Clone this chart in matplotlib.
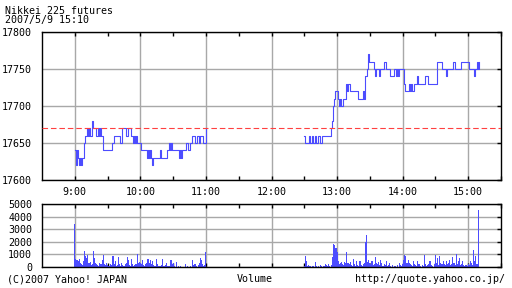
import matplotlib
matplotlib.use("Agg")
import matplotlib.pyplot as plt
from matplotlib.ticker import FixedLocator, NullFormatter

# price steps (time, price) -- morning and afternoon sessions
am_times = ["9:00", "9:01", "9:02", "9:03", "9:04", "9:05", "9:06", "9:07", "9:08", "9:09",
            "9:11", "9:12", "9:13", "9:14", "9:16", "9:17", "9:19", "9:21", "9:22", "9:23",
            "9:24", "9:26", "9:34", "9:36", "9:41", "9:43", "9:47", "9:49", "9:51", "9:53",
            "9:54", "9:55", "9:56", "9:57", "10:01", "10:06", "10:07", "10:08", "10:09", "10:10",
            "10:11", "10:12", "10:18", "10:19", "10:24", "10:26", "10:27", "10:28", "10:29", "10:35",
            "10:36", "10:37", "10:38", "10:42", "10:44", "10:45", "10:47", "10:50", "10:52", "10:54",
            "10:55", "10:57", "11:00"]
am_prices = [17640, 17620, 17640, 17630, 17620, 17630, 17620, 17630, 17650, 17660,
             17670, 17660, 17670, 17660, 17680, 17670, 17660, 17670, 17660, 17670,
             17660, 17640, 17650, 17660, 17650, 17670, 17660, 17670, 17660, 17650,
             17660, 17650, 17660, 17650, 17640, 17630, 17640, 17630, 17640, 17630,
             17620, 17630, 17640, 17630, 17640, 17650, 17640, 17650, 17640, 17630,
             17640, 17630, 17640, 17650, 17640, 17650, 17660, 17650, 17660, 17650,
             17660, 17650, 17670]

pm_times = ["12:30", "12:31", "12:34", "12:35", "12:37", "12:38", "12:40", "12:41", "12:43", "12:44",
            "12:46", "12:54", "12:55", "12:56", "12:57", "12:58", "13:01", "13:02", "13:03", "13:04",
            "13:05", "13:08", "13:09", "13:10", "13:12", "13:19", "13:24", "13:25", "13:26", "13:27",
            "13:28", "13:29", "13:34", "13:35", "13:36", "13:38", "13:39", "13:43", "13:45", "13:48",
            "13:52", "13:54", "13:55", "13:56", "13:57", "14:01", "14:02", "14:06", "14:07", "14:08",
            "14:09", "14:10", "14:13", "14:14", "14:20", "14:23", "14:31", "14:36", "14:40", "14:41",
            "14:46", "14:48", "14:53", "15:01", "15:05", "15:06", "15:08", "15:09", "15:10"]
pm_prices = [17660, 17650, 17660, 17650, 17660, 17650, 17660, 17650, 17660, 17650,
             17660, 17670, 17680, 17700, 17710, 17720, 17710, 17700, 17710, 17700,
             17710, 17730, 17720, 17730, 17720, 17710, 17720, 17710, 17740, 17750,
             17770, 17760, 17750, 17740, 17750, 17740, 17750, 17760, 17750, 17740,
             17750, 17740, 17750, 17740, 17750, 17730, 17720, 17730, 17720, 17730,
             17720, 17730, 17740, 17730, 17740, 17730, 17760, 17750, 17740, 17750,
             17760, 17750, 17760, 17750, 17740, 17750, 17760, 17750, 17760]

prev_close = 17670

# volume per minute
vol_times = ["9:00", "9:01", "9:02", "9:03", "9:04", "9:05", "9:06", "9:07", "9:08", "9:09",
             "9:10", "9:11", "9:12", "9:13", "9:14", "9:15", "9:16", "9:17", "9:18", "9:19",
             "9:20", "9:21", "9:22", "9:23", "9:24", "9:25", "9:26", "9:27", "9:28", "9:29",
             "9:30", "9:31", "9:32", "9:33", "9:34", "9:35", "9:36", "9:37", "9:38", "9:39",
             "9:40", "9:41", "9:42", "9:43", "9:44", "9:45", "9:46", "9:47", "9:48", "9:49",
             "9:50", "9:51", "9:52", "9:53", "9:54", "9:55", "9:56", "9:57", "9:58", "9:59",
             "10:00", "10:01", "10:02", "10:03", "10:04", "10:05", "10:06", "10:07", "10:08", "10:09",
             "10:10", "10:11", "10:12", "10:13", "10:14", "10:15", "10:16", "10:17", "10:18", "10:19",
             "10:20", "10:21", "10:22", "10:23", "10:24", "10:25", "10:26", "10:27", "10:28", "10:29",
             "10:30", "10:31", "10:33", "10:35", "10:37", "10:41", "10:43", "10:46", "10:48", "10:49",
             "10:50", "10:51", "10:53", "10:54", "10:55", "10:56", "10:57", "10:58", "10:59", "11:00",
             "12:30", "12:31", "12:32", "12:33", "12:34", "12:35", "12:36", "12:38", "12:40", "12:41",
             "12:43", "12:45", "12:46", "12:48", "12:49", "12:50", "12:51", "12:52", "12:53", "12:55",
             "12:56", "12:57", "12:58", "12:59", "13:00", "13:01", "13:02", "13:03", "13:04", "13:05",
             "13:06", "13:07", "13:08", "13:09", "13:10", "13:11", "13:12", "13:13", "13:14", "13:15",
             "13:16", "13:17", "13:18", "13:19", "13:20", "13:21", "13:22", "13:23", "13:24", "13:25",
             "13:26", "13:27", "13:28", "13:29", "13:30", "13:31", "13:32", "13:33", "13:34", "13:35",
             "13:36", "13:37", "13:38", "13:39", "13:40", "13:41", "13:42", "13:43", "13:44", "13:45",
             "13:46", "13:47", "13:48", "13:49", "13:51", "13:53", "13:55", "13:57", "13:58", "13:59",
             "14:00", "14:01", "14:02", "14:03", "14:04", "14:05", "14:06", "14:07", "14:08", "14:09",
             "14:10", "14:11", "14:12", "14:13", "14:14", "14:15", "14:16", "14:18", "14:19", "14:20",
             "14:21", "14:22", "14:23", "14:24", "14:25", "14:26", "14:27", "14:29", "14:30", "14:31",
             "14:32", "14:33", "14:34", "14:35", "14:36", "14:37", "14:38", "14:39", "14:40", "14:41",
             "14:42", "14:43", "14:44", "14:45", "14:46", "14:47", "14:48", "14:49", "14:50", "14:51",
             "14:52", "14:53", "14:54", "14:55", "14:56", "14:57", "14:58", "14:59", "15:00", "15:01",
             "15:02", "15:03", "15:04", "15:05", "15:06", "15:07", "15:08", "15:09"]
vol_values = [3400, 600, 520, 450, 650, 300, 200, 150, 450, 1260,
              900, 700, 980, 350, 400, 150, 250, 1280, 700, 300,
              250, 150, 100, 300, 200, 530, 980, 250, 120, 300,
              150, 100, 80, 200, 150, 900, 250, 450, 100, 150,
              770, 200, 100, 350, 150, 80, 200, 300, 800, 520,
              150, 100, 630, 250, 100, 150, 200, 1060, 300, 400,
              350, 200, 530, 150, 100, 250, 350, 630, 300, 550,
              200, 450, 150, 80, 100, 650, 200, 100, 80, 150,
              660, 100, 80, 150, 300, 100, 80, 100, 530, 200,
              300, 100, 420, 80, 100, 200, 100, 80, 530, 150,
              200, 100, 150, 300, 700, 550, 200, 100, 150, 1160,
              100, 900, 450, 100, 150, 80, 100, 100, 400, 100,
              80, 150, 100, 80, 250, 150, 100, 250, 100, 150,
              770, 1850, 1770, 1500, 1190, 500, 250, 300, 400, 200,
              150, 400, 300, 1160, 300, 200, 400, 150, 100, 660,
              200, 100, 450, 150, 100, 500, 150, 100, 200, 300,
              1980, 2570, 400, 550, 300, 200, 450, 150, 200, 790,
              300, 200, 400, 150, 580, 300, 100, 200, 150, 450,
              100, 150, 300, 100, 150, 100, 150, 300, 150, 100,
              200, 580, 980, 900, 350, 530, 300, 200, 150, 100,
              500, 250, 150, 100, 450, 200, 100, 150, 100, 930,
              200, 100, 150, 200, 500, 150, 100, 200, 980, 300,
              700, 150, 900, 300, 200, 500, 250, 150, 450, 200,
              300, 530, 150, 200, 770, 300, 150, 1060, 250, 450,
              700, 150, 200, 500, 150, 100, 150, 100, 200, 150,
              450, 300, 150, 1380, 500, 900, 200, 4550]

hour_labels = ["9:00", "10:00", "11:00", "12:00", "13:00", "14:00", "15:00"]


def to_min(s):
    h, m = s.split(":")
    return int(h) * 60 + int(m)


BLUE = "#4c4cff"
GRID = "#a8a8a8"
FONT = "DejaVu Sans Mono"
FS = 7.2

plt.rcParams["font.family"] = FONT
plt.rcParams["font.size"] = FS

fig = plt.figure(figsize=(5.12, 2.88), dpi=100)
fig.patch.set_facecolor("white")

left, right = 42 / 512, 501 / 512
ax = fig.add_axes([left, 1 - 180 / 288, right - left, 148 / 288])
axv = fig.add_axes([left, 1 - 267 / 288, right - left, 63 / 288])

hour_ticks = [to_min(t) for t in hour_labels]
half_ticks = list(range(to_min("9:00"), to_min("15:30") + 1, 30))

# price panel
ax.step([to_min(t) for t in am_times], am_prices, where="post", color=BLUE, lw=0.8)
ax.step([to_min(t) for t in pm_times], pm_prices, where="post", color=BLUE, lw=0.8)
ax.axhline(prev_close, color="#ff4040", lw=0.8, ls=(0, (5, 2.6)), zorder=3)

for a in (ax, axv):
    a.set_xlim(to_min("8:30"), to_min("15:30"))
    a.xaxis.set_major_locator(FixedLocator(hour_ticks))
    a.xaxis.set_minor_locator(FixedLocator(half_ticks))
    a.grid(True, which="major", color=GRID, lw=1)
    a.set_axisbelow(True)
    for sp in a.spines.values():
        sp.set_color("black")
        sp.set_linewidth(1)
    a.tick_params(axis="x", which="both", direction="in", length=3, top=True, bottom=True,
                  color="black", width=1)
    a.tick_params(axis="y", which="both", direction="in", length=3, left=False, right=True,
                  color="black", width=1, pad=7)

ax.set_ylim(17600, 17800)
ax.set_yticks([17600, 17650, 17700, 17750, 17800])
ax.set_xticklabels(hour_labels)
ax.tick_params(axis="x", pad=5)

# volume panel
axv.bar([to_min(t) for t in vol_times], vol_values, width=1.0, color=BLUE, lw=0)
axv.set_ylim(0, 5000)
axv.set_yticks([0, 1000, 2000, 3000, 4000, 5000])
axv.xaxis.set_major_formatter(NullFormatter())

# texts (title block as one two-line text)
fig.text(5 / 512, 1 - 6 / 288, "Nikkei 225 futures\n2007/5/9 15:10", ha="left", va="top",
         fontsize=FS, linespacing=0.82)
fig.text(7 / 512, 1 - 279 / 288, "(C)2007 Yahoo! JAPAN", ha="left", va="center", fontsize=FS)
fig.text(237 / 512, 1 - 279 / 288, "Volume", ha="left", va="center", fontsize=FS)
fig.text(505 / 512, 1 - 279 / 288, "http://quote.yahoo.co.jp/", ha="right", va="center", fontsize=FS)

fig.savefig("out.png", dpi=100, facecolor="white")
